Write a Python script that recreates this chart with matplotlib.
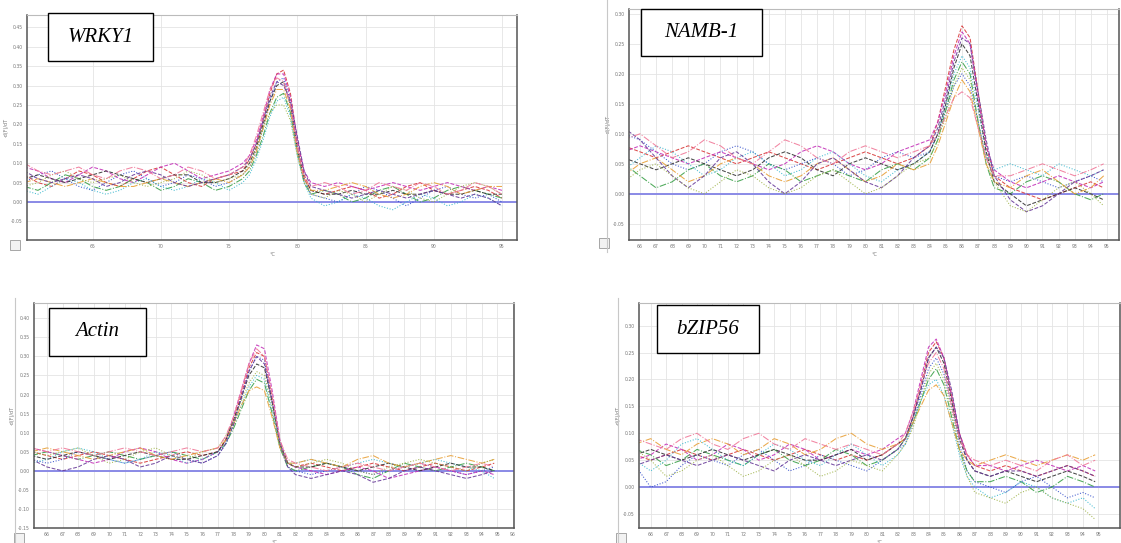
import matplotlib
matplotlib.use('Agg')
import matplotlib.pyplot as plt
from matplotlib.patches import Rectangle
from matplotlib.lines import Line2D
import numpy as np

# ---- data: melt curves (-d(F)/dT vs temperature) ----
# WRKY1
wrky_x = list(range(60, 76)) + [76, 76.5, 77, 77.5, 78, 78.5, 79, 79.5, 80, 80.5, 81] + list(range(82, 96))
wrky_y = [
    [.07,.05,.04,.06,.08,.07,.05,.04,.06,.08,.09,.07,.05,.04,.06,.07, .08,.11,.15,.21,.28,.33,.34,.28,.16,.07,.03, .02,.03,.04,.03,.01,.02,.04,.05,.03,.02,.03,.04,.03,.01],
    [.05,.07,.08,.06,.04,.03,.05,.07,.08,.06,.04,.05,.07,.06,.04,.05, .07,.09,.13,.19,.26,.31,.32,.26,.14,.06,.02, .01,.00,.02,.04,.03,.01,-.01,.01,.03,.04,.02,.01,.02,.00],
    [.04,.03,.05,.07,.06,.04,.03,.04,.06,.05,.03,.04,.06,.05,.03,.04, .06,.08,.12,.17,.23,.27,.28,.23,.13,.05,.02, .03,.02,.00,.01,.03,.04,.02,.00,.01,.03,.04,.03,.02,.01],
    [.09,.08,.06,.05,.07,.09,.08,.06,.05,.07,.09,.10,.08,.06,.07,.08, .10,.12,.16,.22,.29,.33,.33,.27,.16,.08,.05, .04,.05,.04,.03,.04,.05,.04,.03,.04,.05,.04,.03,.04,.03],
    [.03,.02,.04,.06,.05,.03,.02,.03,.05,.06,.04,.03,.04,.06,.05,.03, .05,.07,.11,.16,.22,.26,.27,.22,.12,.05,.01, -.01,.00,.02,.01,-.01,-.02,.00,.02,.01,-.01,.00,.02,.01,-.01],
    [.06,.07,.06,.05,.06,.07,.08,.07,.06,.05,.06,.07,.07,.05,.05,.06, .08,.10,.14,.20,.26,.30,.31,.25,.14,.06,.03, .02,.02,.03,.02,.02,.03,.02,.02,.03,.02,.02,.03,.02,.02],
    [.05,.06,.05,.04,.05,.06,.05,.04,.04,.05,.06,.05,.04,.05,.06,.05, .07,.09,.13,.19,.25,.29,.29,.24,.13,.06,.03, .03,.04,.05,.04,.02,.01,.02,.04,.05,.04,.02,.03,.04,.04],
    [.08,.06,.05,.06,.07,.06,.04,.05,.07,.08,.07,.05,.04,.05,.06,.07, .09,.11,.15,.21,.27,.31,.30,.26,.17,.08,.04, .03,.02,.01,.02,.03,.02,.01,.02,.03,.02,.01,.02,.01,-.01],
    [.04,.05,.07,.08,.06,.05,.06,.07,.05,.04,.05,.06,.08,.07,.05,.06, .07,.10,.14,.19,.23,.25,.25,.21,.12,.05,.02, .01,.03,.02,.00,.02,.04,.03,.01,.00,.02,.04,.05,.04,.02],
    [.10,.08,.07,.08,.09,.07,.06,.08,.09,.08,.06,.07,.09,.08,.06,.07, .09,.12,.17,.23,.29,.32,.31,.25,.14,.06,.04, .05,.04,.02,.03,.05,.04,.03,.05,.04,.02,.03,.05,.04,.02],
]

# NAMB-1
namb_x = list(range(65, 84)) + [84, 84.5, 85, 85.5, 86, 86.5, 87, 87.5, 88] + [89, 90, 91, 92, 93, 94, 94.8]
namb_y = [
    [.08,.07,.06,.07,.08,.07,.06,.05,.06,.07,.06,.05,.04,.05,.06,.07,.06,.05,.06, .08,.12,.18,.24,.28,.26,.17,.08,.03, .01,.00,-.01,.00,.01,.02,.01],
    [.10,.09,.07,.05,.04,.05,.07,.08,.07,.05,.04,.05,.06,.05,.03,.04,.06,.07,.06, .07,.10,.14,.18,.20,.18,.12,.06,.03, .02,.03,.02,.01,.02,.03,.02],
    [.05,.03,.01,.02,.04,.05,.03,.02,.03,.05,.04,.02,.03,.04,.03,.02,.04,.05,.04, .06,.09,.14,.19,.22,.20,.12,.05,.01, .00,.02,.03,.02,.00,-.01,.00],
    [.07,.08,.07,.06,.05,.06,.07,.06,.05,.04,.05,.07,.08,.07,.05,.04,.05,.07,.08, .09,.12,.17,.23,.27,.25,.16,.08,.04, .02,.01,.02,.03,.02,.01,.02],
    [.04,.06,.08,.07,.05,.03,.04,.06,.07,.05,.03,.04,.06,.07,.05,.03,.02,.04,.05, .07,.10,.15,.20,.23,.21,.14,.07,.04, .05,.04,.03,.05,.04,.03,.04],
    [.06,.05,.04,.05,.06,.05,.04,.03,.04,.06,.07,.06,.04,.03,.05,.06,.05,.04,.05, .07,.10,.15,.21,.25,.23,.15,.07,.02, .00,-.02,-.01,.00,.01,.00,-.01],
    [.03,.05,.06,.04,.02,.03,.05,.06,.05,.03,.02,.03,.05,.06,.04,.02,.03,.05,.04, .05,.08,.12,.16,.19,.17,.11,.05,.02, .01,.03,.04,.02,.00,.01,.03],
    [.11,.09,.06,.03,.01,.03,.06,.07,.05,.02,.00,.02,.05,.06,.04,.02,.01,.03,.06, .08,.11,.16,.22,.26,.25,.17,.09,.03, -.01,-.03,-.02,.00,.02,.03,.04],
    [.02,.04,.05,.03,.01,.00,.02,.04,.03,.01,.00,.01,.03,.04,.02,.00,.01,.03,.05, .06,.09,.13,.18,.21,.19,.12,.06,.02, -.02,-.03,-.01,.01,.02,.00,-.02],
    [.09,.10,.08,.06,.07,.09,.08,.06,.05,.07,.09,.08,.06,.05,.07,.08,.07,.06,.07, .08,.10,.13,.16,.17,.16,.11,.06,.03, .03,.04,.05,.04,.03,.04,.05],
]

# Actin
actin_x = list(range(65, 77)) + [77, 77.5, 78, 78.5, 79, 79.5, 80, 80.5, 81, 81.5] + list(range(82, 95)) + [94.8]
actin_y = [
    [.05,.04,.03,.04,.05,.04,.03,.02,.03,.04,.05,.04, .05,.08,.13,.20,.27,.31,.30,.19,.07,.02, .01,.02,.01,.00,.01,.02,.01,.00,.01,.02,.01,.00,.01,.02],
    [.03,.02,.03,.05,.04,.03,.02,.03,.04,.05,.03,.02, .04,.07,.12,.19,.26,.30,.29,.18,.07,.01, .00,-.01,.00,.01,.00,-.01,.00,.01,.02,.01,.00,-.01,.00,.01],
    [.04,.05,.04,.03,.04,.05,.04,.03,.04,.05,.04,.03, .05,.07,.11,.16,.21,.24,.23,.15,.06,.01, .00,.01,.02,.01,-.01,-.02,.00,.02,.01,.00,.01,.02,.01,.00],
    [.06,.05,.04,.03,.02,.03,.05,.06,.05,.03,.02,.03, .05,.08,.14,.21,.28,.33,.32,.21,.08,.02, .01,.00,-.01,.00,.01,.00,-.02,-.01,.00,.01,.00,-.01,.00,-.01],
    [.02,.03,.05,.06,.05,.03,.02,.03,.05,.04,.02,.03, .05,.07,.12,.17,.22,.25,.24,.16,.07,.02, .02,.03,.02,.01,.02,.03,.02,.01,.02,.03,.02,.01,.00,-.02],
    [.04,.03,.04,.05,.04,.03,.04,.05,.04,.03,.03,.04, .05,.08,.13,.19,.25,.28,.27,.18,.07,.02, .01,.01,.02,.01,.00,.01,.02,.01,.00,.01,.02,.01,.01,.00],
    [.05,.06,.05,.04,.03,.04,.05,.06,.04,.03,.04,.05, .06,.08,.12,.17,.21,.22,.21,.14,.06,.02, .02,.03,.02,.01,.03,.04,.02,.01,.02,.03,.04,.03,.02,.03],
    [.03,.01,.00,.01,.03,.04,.03,.01,.02,.04,.03,.02, .04,.07,.12,.19,.26,.30,.28,.18,.07,.01, -.01,-.02,-.01,.00,-.01,-.03,-.02,.00,.01,.00,-.01,-.02,-.01,.00],
    [.05,.04,.05,.06,.04,.02,.03,.05,.06,.04,.03,.05, .06,.09,.13,.18,.23,.26,.25,.17,.07,.02, .01,.02,.03,.02,.00,-.01,.01,.02,.03,.02,.01,.00,.02,.03],
    [.06,.05,.06,.05,.04,.05,.06,.05,.04,.05,.06,.05, .06,.09,.14,.21,.28,.32,.30,.20,.08,.03, .02,.01,.00,.01,.02,.01,.00,.01,.02,.01,.00,.01,.02,.01],
]

# bZIP56
bzip_x = list(range(65, 82)) + [82, 82.5, 83, 83.5, 84, 84.5, 85, 85.5, 86, 86.5, 87] + list(range(88, 95)) + [94.8]
bzip_y = [
    [.06,.05,.06,.07,.06,.05,.06,.07,.06,.05,.06,.07,.06,.05,.06,.05,.06, .08,.09,.13,.19,.25,.27,.24,.17,.10,.06,.04, .03,.04,.03,.02,.03,.04,.03,.02],
    [.04,.00,.01,.04,.06,.05,.04,.06,.07,.05,.03,.04,.06,.05,.04,.03,.05, .07,.08,.12,.17,.22,.24,.21,.15,.08,.03,.01, .00,-.01,.01,.02,.00,-.02,-.01,-.02],
    [.07,.06,.04,.05,.07,.06,.05,.04,.06,.07,.05,.04,.05,.07,.06,.04,.05, .07,.09,.12,.16,.20,.22,.19,.13,.07,.03,.01, .01,.02,.01,-.01,.00,.02,.01,.00],
    [.05,.06,.08,.07,.05,.06,.08,.07,.05,.06,.08,.07,.05,.06,.07,.06,.07, .09,.10,.14,.20,.26,.275,.24,.17,.10,.06,.04, .04,.03,.04,.05,.04,.03,.04,.03],
    [.05,.03,.05,.08,.09,.07,.05,.04,.06,.08,.07,.05,.04,.06,.08,.06,.04, .06,.08,.12,.16,.19,.20,.17,.12,.06,.02,.00, -.02,-.01,.01,.00,-.02,-.03,-.02,-.04],
    [.06,.07,.06,.05,.06,.07,.06,.05,.06,.07,.06,.05,.05,.06,.07,.05,.06, .08,.09,.13,.18,.24,.26,.23,.16,.09,.05,.03, .02,.03,.02,.01,.02,.03,.02,.01],
    [.08,.09,.07,.06,.08,.09,.08,.06,.07,.09,.08,.06,.07,.09,.10,.08,.07, .08,.09,.12,.15,.18,.19,.17,.12,.07,.05,.04, .05,.06,.05,.04,.05,.06,.05,.06],
    [.04,.05,.06,.05,.04,.05,.06,.05,.04,.03,.05,.06,.05,.04,.05,.06,.05, .07,.09,.13,.18,.24,.26,.24,.18,.10,.05,.03, .02,.03,.03,.02,.03,.04,.03,.02],
    [.07,.05,.02,.03,.05,.06,.04,.02,.03,.05,.06,.04,.02,.03,.05,.04,.03, .06,.08,.11,.16,.21,.23,.20,.14,.07,.02,-.01, -.02,-.03,-.01,.00,-.02,-.03,-.04,-.06],
    [.09,.08,.07,.09,.10,.08,.07,.09,.10,.08,.07,.09,.08,.07,.08,.07,.06, .08,.10,.14,.19,.23,.25,.22,.15,.09,.06,.05, .04,.05,.04,.03,.05,.06,.04,.05],
]

colors = ['#d83a3a', '#2a46c8', '#3aa048', '#c430b8', '#30b4cc', '#333333',
          '#e8a038', '#6a3d9a', '#9ab040', '#f07898']
styles = ['--', ':', '-.', '--', ':', '--', '-.', '--', ':', '-.']

panels = [
    # name, x, ys, axes rect, xlim, ylim, xticks, yticks, box rect
    ('WRKY1', wrky_x, wrky_y, [0.0241, 0.558, 0.4371, 0.4144], (60.2, 96.1), (-0.098, 0.482),
     np.arange(65, 96, 5), np.arange(-0.05, 0.451, 0.05), (48, 13, 105, 48)),
    ('NAMB-1', namb_x, namb_y, [0.5611, 0.558, 0.4371, 0.4254], (65.32, 95.75), (-0.077, 0.308),
     np.arange(66, 96, 1), np.arange(-0.05, 0.301, 0.05), (641, 9, 121, 47)),
    ('Actin', actin_x, actin_y, [0.0303, 0.0276, 0.4282, 0.4144], (65.16, 96.07), (-0.15, 0.44),
     np.arange(66, 97, 1), np.arange(-0.15, 0.401, 0.05), (49, 308, 97, 48)),
    ('bZIP56', bzip_x, bzip_y, [0.570, 0.0276, 0.429, 0.4144], (65.24, 96.4), (-0.076, 0.342),
     np.arange(66, 96, 1), np.arange(-0.05, 0.301, 0.05), (657, 305, 102, 48)),
]

W, H = 1121, 543
fig = plt.figure(figsize=(W / 100, H / 100), dpi=100)
fig.patch.set_facecolor('white')

for name, xs, ys, rect, xlim, ylim, xt, yt, box in panels:
    ax = fig.add_axes(rect)
    ax.set_xlim(*xlim)
    ax.set_ylim(*ylim)
    ax.set_xticks(xt)
    ax.set_yticks(yt)
    ax.set_xticklabels([str(int(v)) for v in xt])
    ax.set_yticklabels(['%.2f' % v if abs(v) > 1e-9 else '0.00' for v in yt])
    ax.tick_params(length=0, labelsize=3.3, labelcolor='#777777', pad=3)
    ax.grid(True, color='#e4e4e4', linewidth=0.6)
    ax.set_axisbelow(True)
    for s in ['left', 'bottom', 'right']:
        ax.spines[s].set_color('#555555')
        ax.spines[s].set_linewidth(1.1)
    ax.spines['top'].set_color('#bbbbbb')
    ax.spines['top'].set_linewidth(0.8)
    ax.axhline(0, color='#8a8ae6', linewidth=1.4, zorder=1)
    for i, y in enumerate(ys):
        ax.plot(xs, y, color=colors[i], linestyle=styles[i], linewidth=0.75, alpha=0.9, zorder=2)
    ax.set_xlabel('°C', fontsize=3.5, color='#777777', labelpad=2)
    ax.set_ylabel('-d(F)/dT', fontsize=3.5, color='#777777', labelpad=2)

    bx, by, bw, bh = box
    fig.add_artist(Rectangle((bx / W, 1 - (by + bh) / H), bw / W, bh / H,
                             transform=fig.transFigure, facecolor='white',
                             edgecolor='black', linewidth=1.0, zorder=5))
    fig.text((bx + bw / 2) / W, 1 - (by + bh / 2) / H, name, family='Liberation Serif',
             style='italic', fontsize=15, ha='center', va='center', zorder=6)

# window edges and zoom icons of the instrument software
for x0, y0, y1 in [(607, 0, 252), (15, 298, 543), (618, 298, 543)]:
    fig.add_artist(Line2D([x0 / W, x0 / W], [1 - y0 / H, 1 - y1 / H],
                          transform=fig.transFigure, color='#c8c8c8', linewidth=0.8))
for ix, iy in [(10, 240), (599, 238), (14, 533), (616, 533)]:
    fig.add_artist(Rectangle((ix / W, 1 - (iy + 10) / H), 10 / W, 10 / H,
                             transform=fig.transFigure, facecolor='#f2f2f2',
                             edgecolor='#999999', linewidth=0.6))

fig.savefig('out.png', dpi=100, facecolor='white')
